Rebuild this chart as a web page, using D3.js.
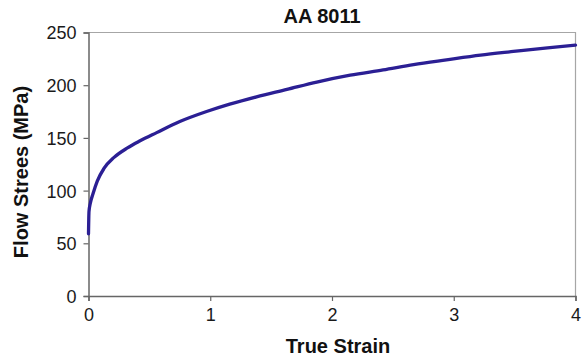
<!DOCTYPE html>
<html>
<head>
<meta charset="utf-8">
<script src="https://cdn.jsdelivr.net/npm/d3@7"></script>
<style>
  html, body { margin: 0; padding: 0; background: #fff; }
  svg { display: block; font-family: "Liberation Sans", Arial, sans-serif; }
</style>
</head>
<body>
<svg id="chart" width="584" height="363"></svg>
<script>
// Flow curve of AA 8011: true strain vs flow stress (MPa)
const strain = [0, 0.004, 0.015, 0.037, 0.072, 0.127, 0.21, 0.32, 0.42, 0.56, 0.75, 0.97, 1.16, 1.38, 1.63, 1.875, 2.15, 2.42, 2.67, 2.94, 3.22, 3.49, 3.77, 4.0];
const stress = [59, 80, 88, 97, 109, 121, 131.5, 140.5, 147, 155, 165.5, 175, 182, 189, 196, 203, 209.5, 214.5, 219.5, 224, 228.5, 232, 235.5, 238];
const xTicks = [0, 1, 2, 3, 4];
const yTicks = [0, 50, 100, 150, 200, 250];

const svg = d3.select("#chart");
const plotLeft = 88.5, plotRight = 575.5, plotTop = 32.5, plotBottom = 296;

const x = d3.scaleLinear().domain([0, 4]).range([plotLeft, plotRight]);
const y = d3.scaleLinear().domain([0, 250]).range([plotBottom, plotTop]);

// plot frame (top and right edges)
svg.append("path")
  .attr("d", `M${plotLeft},${plotTop}H${plotRight}V${plotBottom}`)
  .attr("fill", "none")
  .attr("stroke", "#a6a6a6")
  .attr("stroke-width", 1.2);

const xAxis = svg.append("g")
  .attr("transform", `translate(0,${plotBottom})`)
  .call(d3.axisBottom(x).tickValues(xTicks).tickSize(5).tickPadding(7).tickFormat(d3.format("d")));
const yAxis = svg.append("g")
  .attr("transform", `translate(${plotLeft},0)`)
  .call(d3.axisLeft(y).tickValues(yTicks).tickSize(5).tickPadding(7).tickFormat(d3.format("d")));

[xAxis, yAxis].forEach(g => {
  g.select(".domain").attr("stroke", "#666").attr("stroke-width", 1.5);
  g.selectAll(".tick line").attr("stroke", "#666").attr("stroke-width", 1.2);
  g.selectAll(".tick text").attr("fill", "#1a1a1a").style("font-size", "18px")
    .style("font-family", "'Liberation Sans', Arial, sans-serif");
});
yAxis.selectAll(".tick text").attr("dy", "0.36em");

// flow curve
const line = d3.line()
  .x((d, i) => x(strain[i]))
  .y(d => y(d))
  .curve(d3.curveMonotoneX);

svg.append("path")
  .datum(stress)
  .attr("d", line)
  .attr("fill", "none")
  .attr("stroke", "#2b1f94")
  .attr("stroke-width", 3.3)
  .attr("stroke-linejoin", "round")
  .attr("stroke-linecap", "round");

// titles
svg.append("text")
  .attr("x", 322).attr("y", 23)
  .attr("text-anchor", "middle")
  .style("font-size", "20px").style("font-weight", "bold")
  .attr("fill", "#111")
  .text("AA 8011");

svg.append("text")
  .attr("x", 338).attr("y", 353)
  .attr("text-anchor", "middle")
  .style("font-size", "20px").style("font-weight", "bold")
  .attr("fill", "#111")
  .text("True Strain");

svg.append("text")
  .attr("transform", `translate(28,172) rotate(-90)`)
  .attr("text-anchor", "middle")
  .style("font-size", "20px").style("font-weight", "bold")
  .attr("fill", "#111")
  .text("Flow Strees (MPa)");
</script>
</body>
</html>
